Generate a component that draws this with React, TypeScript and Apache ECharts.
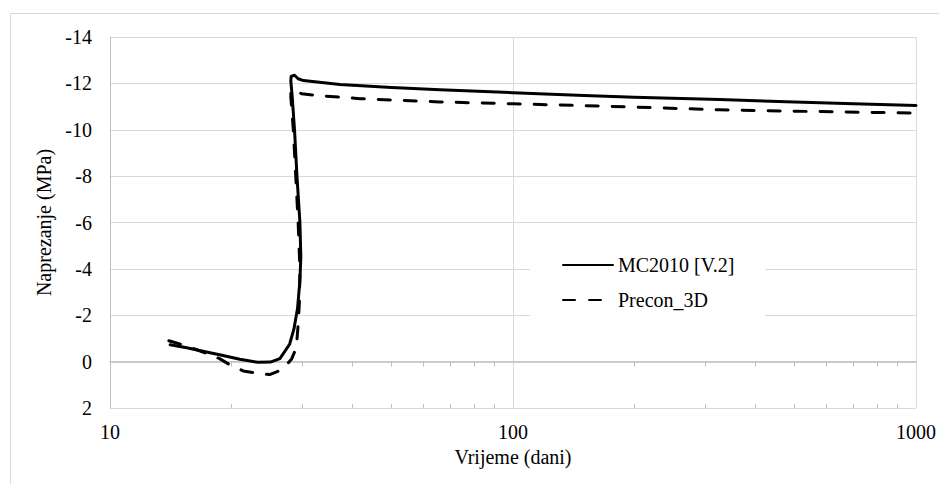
import React, { useEffect, useRef } from 'react';
import * as echarts from 'echarts';

const FONT = '"Liberation Serif", "Times New Roman", serif';

// MC2010 [V.2] – time (days), stress (MPa)
const mcTime = [14.1, 15.5, 17, 18.7, 21, 23.3, 25, 26.4, 27.9, 28.6, 29.2, 29.6, 29.75, 29.6, 29.1, 28.7, 28.3, 28.1, 28.15, 28.7, 29.3, 30.2, 37.2, 50, 65.8, 100, 150, 200, 325, 500, 700, 1000];
const mcStress = [-0.73, -0.6, -0.45, -0.3, -0.1, 0.03, 0.02, -0.13, -0.75, -1.4, -2.3, -3.5, -4.5, -6, -8, -10, -11.5, -12.1, -12.3, -12.35, -12.2, -12.12, -11.95, -11.82, -11.72, -11.6, -11.48, -11.4, -11.3, -11.2, -11.12, -11.05];

// Precon_3D – time (days), stress (MPa)
const preconTime = [14.0, 15.1, 16.5, 18.7, 19.8, 21.4, 23.2, 24.9, 26.7, 28.2, 29.0, 29.3, 29.5, 29.6, 29.3, 28.9, 28.5, 28.1, 28.1, 28.6, 29.9, 33.1, 41.7, 65.8, 100, 200, 325, 500, 1000];
const preconStress = [-0.9, -0.73, -0.5, -0.13, 0.13, 0.4, 0.5, 0.56, 0.35, -0.1, -0.6, -1.6, -2.5, -4, -6, -8, -10, -11.4, -11.7, -11.75, -11.55, -11.47, -11.34, -11.2, -11.12, -10.98, -10.86, -10.8, -10.72];

const seriesNames = ['MC2010 [V.2]', 'Precon_3D'];
const xMinorTicks = [20, 30, 40, 50, 60, 70, 80, 90, 200, 300, 400, 500, 600, 700, 800, 900];
const yMin = -14;
const yMax = 2;
const yStep = 2;
const xMin = 10;
const xMax = 1000;

export default function App() {
  const ref = useRef<HTMLDivElement>(null);
  useEffect(() => {
    if (!ref.current) return;
    const chart = echarts.init(ref.current, undefined, { renderer: 'svg' });
    const mcData = mcTime.map((t, i) => [t, mcStress[i]]);
    const prData = preconTime.map((t, i) => [t, preconStress[i]]);
    const tickAxisBase = {
      type: 'log',
      logBase: 10,
      min: xMin,
      max: xMax,
      position: 'bottom',
      axisLabel: { show: false },
      splitLine: { show: false },
    };
    const labelStyle = { fontSize: 20, color: '#000', fontFamily: FONT, fontWeight: 'normal' };
    chart.setOption({
      animation: false,
      backgroundColor: '#fff',
      textStyle: { fontFamily: FONT },
      graphic: [
        {
          type: 'rect',
          shape: { x: 10.5, y: 13.5, width: 1000, height: 600 },
          style: { fill: 'none', stroke: '#d9d9d9', lineWidth: 1 },
          silent: true,
          z: -10,
        },
      ],
      grid: { left: 110, right: 21, top: 37, bottom: 76, containLabel: false },
      legend: {
        orient: 'vertical',
        left: 530,
        top: 247,
        padding: [8, 31, 6, 32],
        itemWidth: 50,
        itemHeight: 14,
        itemGap: 15,
        backgroundColor: '#fff',
        itemStyle: { opacity: 0 },
        textStyle: labelStyle,
        data: seriesNames,
      },
      xAxis: [
        {
          type: 'log',
          logBase: 10,
          min: xMin,
          max: xMax,
          position: 'bottom',
          axisLine: { show: false, onZero: false },
          axisTick: { show: false },
          axisLabel: { ...labelStyle, margin: 14, formatter: (v: number) => String(v) },
          splitLine: { show: true, lineStyle: { color: '#d9d9d9', width: 1 } },
          name: 'Vrijeme (dani)',
          nameLocation: 'middle',
          nameGap: 39,
          nameTextStyle: labelStyle,
        },
        {
          ...tickAxisBase,
          axisLine: { show: true, onZero: true, lineStyle: { color: '#bfbfbf', width: 1.5 } },
          axisTick: { show: true, customValues: xMinorTicks, length: 5, lineStyle: { color: '#bfbfbf', width: 1 } },
        },
        {
          ...tickAxisBase,
          axisLine: { show: false, onZero: true },
          axisTick: { show: true, inside: true, customValues: xMinorTicks, length: 4, lineStyle: { color: '#bfbfbf', width: 1 } },
        },
      ],
      yAxis: {
        type: 'value',
        inverse: true,
        min: yMin,
        max: yMax,
        interval: yStep,
        axisLine: { show: true, onZero: false, lineStyle: { color: '#bfbfbf', width: 1 } },
        axisTick: { show: false },
        axisLabel: { ...labelStyle, margin: 18 },
        splitLine: { show: true, lineStyle: { color: '#d9d9d9', width: 1 } },
        name: 'Naprezanje (MPa)',
        nameLocation: 'middle',
        nameGap: 47,
        nameTextStyle: labelStyle,
      },
      series: [
        {
          name: seriesNames[0],
          type: 'line',
          xAxisIndex: 0,
          data: mcData,
          symbol: 'none',
          smooth: false,
          itemStyle: { color: '#000' },
          lineStyle: { color: '#000', width: 3, cap: 'round', join: 'round' },
          z: 3,
        },
        {
          name: seriesNames[1],
          type: 'line',
          xAxisIndex: 0,
          data: prData,
          symbol: 'none',
          smooth: false,
          itemStyle: { color: '#000' },
          lineStyle: { color: '#000', width: 3, type: [12, 14], cap: 'round', join: 'round' },
          z: 2,
        },
      ],
    });
    return () => chart.dispose();
  }, []);
  return <div ref={ref} style={{ position: 'fixed', left: 0, top: 0, width: 939, height: 484 }} />;
}
